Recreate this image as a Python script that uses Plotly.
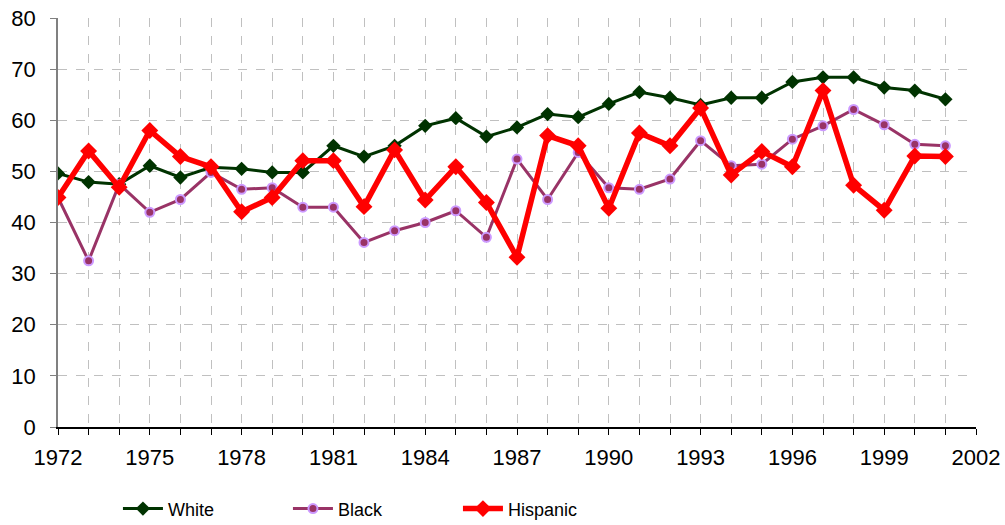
import plotly.graph_objects as go

years = list(range(1972, 2002))
white = [49.6, 47.9, 47.5, 51.1, 48.8, 50.8, 50.5, 49.8, 49.8, 55.0,
         52.9, 55.0, 58.9, 60.4, 56.8, 58.6, 61.2, 60.6, 63.2, 65.5,
         64.4, 63.0, 64.4, 64.4, 67.5, 68.4, 68.4, 66.4, 65.8, 64.1]
black = [44.9, 32.5, 47.5, 42.0, 44.5, 49.8, 46.5, 46.8, 43.0, 43.0,
         36.1, 38.4, 40.0, 42.3, 37.1, 52.4, 44.5, 53.7, 46.8, 46.5,
         48.5, 56.0, 51.1, 51.4, 56.3, 58.9, 62.1, 59.1, 55.3, 55.0]
hispanic = [44.9, 54.0, 46.9, 58.0, 52.9, 50.9, 42.1, 44.9, 52.1, 52.1,
            43.1, 54.2, 44.4, 50.9, 43.9, 33.2, 57.0, 55.0, 42.8, 57.5,
            55.0, 62.4, 49.3, 53.9, 50.9, 65.8, 47.3, 42.4, 53.0, 52.9]
tick_years = list(range(1972, 2003))
tick_text = [str(y) if (y - 1972) % 3 == 0 else "" for y in tick_years]

fig = go.Figure()
fig.add_trace(go.Scatter(x=years, y=white, name="White", mode="lines+markers",
                         line=dict(color="#003300", width=3),
                         marker=dict(symbol="diamond", size=11, color="#003300")))
fig.add_trace(go.Scatter(x=years, y=black, name="Black", mode="lines+markers",
                         line=dict(color="#993366", width=3),
                         marker=dict(symbol="circle", size=9, color="#993366",
                                     line=dict(color="#CC99FF", width=2))))
fig.add_trace(go.Scatter(x=years, y=hispanic, name="Hispanic", mode="lines+markers",
                         line=dict(color="#FF0000", width=5.5),
                         marker=dict(symbol="diamond", size=13, color="#FF0000")))

fig.update_layout(
    width=1005, height=525,
    margin=dict(l=58, r=29, t=18, b=98, autoexpand=False),
    paper_bgcolor="white", plot_bgcolor="white",
    font=dict(family="Liberation Sans, Arial, sans-serif", size=22, color="black"),
    showlegend=True,
    legend=dict(orientation="h", x=0.0653, xanchor="left", y=-0.155, yanchor="top",
                font=dict(size=18), entrywidth=115, entrywidthmode="pixels",
                itemwidth=40),
)
fig.update_xaxes(range=[1972, 2002], tickmode="array", tickvals=tick_years,
                 ticktext=tick_text, ticks="outside", ticklen=6, tickcolor="black",
                 ticklabelstandoff=4, ticklabeloverflow="allow",
                 showline=True, linecolor="black", linewidth=1.5,
                 showgrid=True, gridcolor="#C0C0C0", griddash="dash", gridwidth=1,
                 zeroline=False)
fig.update_yaxes(range=[0, 80], dtick=10, ticks="outside", ticklen=6,
                 tickcolor="#808080", ticklabelstandoff=10, ticklabeloverflow="allow",
                 showline=True, linecolor="#808080", linewidth=1.5,
                 showgrid=True, gridcolor="#C0C0C0", griddash="dash", gridwidth=1,
                 zeroline=False)

fig.write_html("out.html", config={"displayModeBar": False},
               post_script="document.body.style.margin='0';document.body.style.padding='0';")
